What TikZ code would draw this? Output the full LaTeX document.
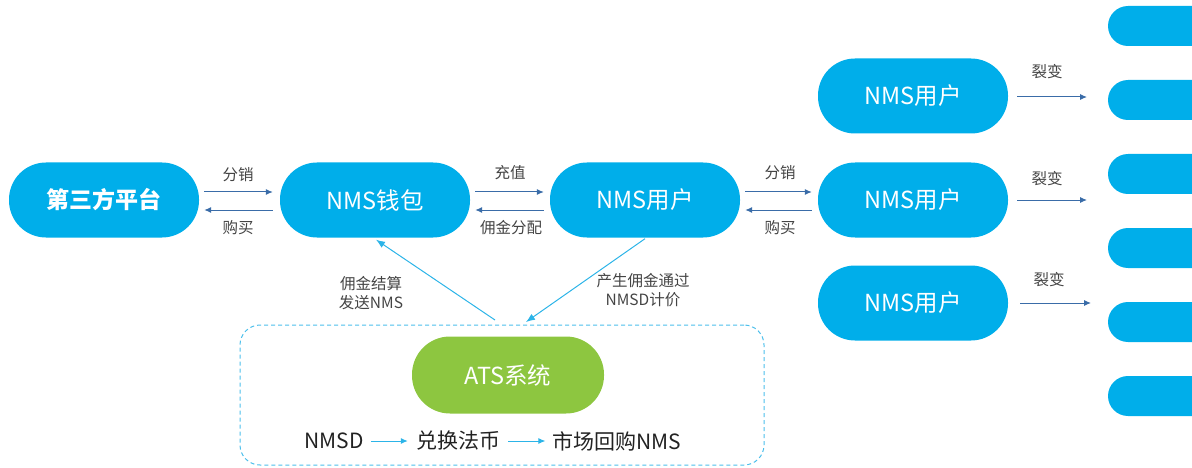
\documentclass[tikz,border=0pt]{standalone}
\usepackage{fontspec}
\setmainfont{Noto Sans CJK SC}
\usetikzlibrary{arrows.meta}
\definecolor{pillblue}{HTML}{00AEEA}
\definecolor{atsgreen}{HTML}{8DC640}
\definecolor{arrowdark}{HTML}{3A6CA8}
\definecolor{arrowlight}{HTML}{2CB4E8}
\definecolor{labelgray}{HTML}{444444}
\definecolor{rowtext}{HTML}{222222}
\begin{document}
\begin{tikzpicture}[x=1pt,y=-1pt,
  pill/.style={fill=pillblue, text=white, rounded corners=37pt, minimum width=190pt, minimum height=75pt, inner sep=0pt, font=\fontsize{23.5}{27}\selectfont},
  minipill/.style={fill=pillblue, rounded corners=20pt, minimum width=110pt, minimum height=40pt, inner sep=0pt},
  lbl/.style={text=labelgray, inner sep=0pt, font=\fontsize{15.5}{19.5}\selectfont, align=center},
  harrow/.style={draw=arrowdark, line width=1pt, -{Latex[length=7pt,width=6pt]}},
  darrow/.style={draw=arrowlight, line width=1pt, -{Latex[length=9pt,width=7pt]}},
  rowarrow/.style={draw=arrowlight, line width=1pt, -{Latex[length=7pt,width=6pt]}},
  rowtxt/.style={text=rowtext, inner sep=0pt, font=\fontsize{21}{24}\selectfont}
]
\useasboundingbox (0,0) rectangle (1192,468);
\clip (0,0) rectangle (1192,468);

% main row
\node[pill, font=\fontsize{23}{27}\selectfont\bfseries] (third) at (104,200) {第三方平台};
\node[pill] (wallet) at (375,200) {NMS钱包};
\node[pill] (user1) at (645,200) {NMS用户};
\node[pill] (user2) at (913,200) {NMS用户};
\node[pill] (userT) at (913,96) {NMS用户};
\node[pill] (userB) at (913,303) {NMS用户};

% small nodes at right
\node[minipill] (m1) at (1163,26) {};
\node[minipill] (m2) at (1163,100) {};
\node[minipill] (m3) at (1163,174) {};
\node[minipill] (m4) at (1163,248) {};
\node[minipill] (m5) at (1163,322) {};
\node[minipill] (m6) at (1163,396) {};

% horizontal arrows
\draw[harrow] ([xshift=5pt,yshift=8pt]third.east) -- ([xshift=-7pt,yshift=8pt]wallet.west);
\draw[harrow] ([xshift=-7pt,yshift=-10pt]wallet.west) -- ([xshift=5pt,yshift=-10pt]third.east);
\node[lbl] (l1) at (238,175) {分销};
\node[lbl] (l2) at (238,228) {购买};

\draw[harrow] ([xshift=5pt,yshift=8pt]wallet.east) -- ([xshift=-6pt,yshift=8pt]user1.west);
\draw[harrow] ([xshift=-6pt,yshift=-10pt]user1.west) -- ([xshift=5pt,yshift=-10pt]wallet.east);
\node[lbl] (l3) at (510,173) {充值};
\node[lbl] (l4) at (511,228) {佣金分配};

\draw[harrow] ([xshift=5pt,yshift=8pt]user1.east) -- ([xshift=-6pt,yshift=8pt]user2.west);
\draw[harrow] ([xshift=-6pt,yshift=-10pt]user2.west) -- ([xshift=5pt,yshift=-10pt]user1.east);
\node[lbl] (l5) at (780,173) {分销};
\node[lbl] (l6) at (780,228) {购买};

% fission arrows
\coordinate (fT) at (1087,97);
\coordinate (fM) at (1087,200);
\coordinate (fB) at (1091,303);
\draw[harrow] ([xshift=9pt,yshift=-1pt]userT.east) -- (fT);
\draw[harrow] ([xshift=9pt]user2.east) -- (fM);
\draw[harrow] ([xshift=12pt]userB.east) -- (fB);
\node[lbl] (f1) at (1047,72) {裂变};
\node[lbl] (f2) at (1047,179) {裂变};
\node[lbl] (f3) at (1049,280) {裂变};

% ATS box
\node[draw=arrowlight!85, dash pattern=on 4pt off 3pt, line width=1pt, rounded corners=20pt, minimum width=524pt, minimum height=140pt] (atsbox) at (502,395) {};
\node[fill=atsgreen, text=white, rounded corners=38pt, minimum width=192pt, minimum height=77pt, inner sep=0pt, font=\fontsize{23.5}{27}\selectfont] (ats) at (508,375) {ATS系统};

% diagonal arrows
\coordinate (dA) at (495,320);
\coordinate (dB) at (526,322);
\draw[darrow] (dA) -- ([xshift=1pt,yshift=-2pt]wallet.south);
\draw[darrow] ([yshift=-1pt]user1.south) -- (dB);
\node[lbl] (d1) at (371,293) {佣金结算\\发送NMS};
\node[lbl] (d2) at (643,290) {产生佣金通过\\NMSD计价};

% bottom row
\node[rowtxt] (nmsd) at (334,441) {NMSD};
\node[rowtxt] (fx) at (458,441) {兑换法币};
\node[rowtxt] (buy) at (617,441) {市场回购NMS};
\draw[rowarrow] ([xshift=7pt]nmsd.east) -- ([xshift=-8pt]fx.west);
\draw[rowarrow] ([xshift=8pt]fx.east) -- ([xshift=-7pt]buy.west);
\end{tikzpicture}
\end{document}
